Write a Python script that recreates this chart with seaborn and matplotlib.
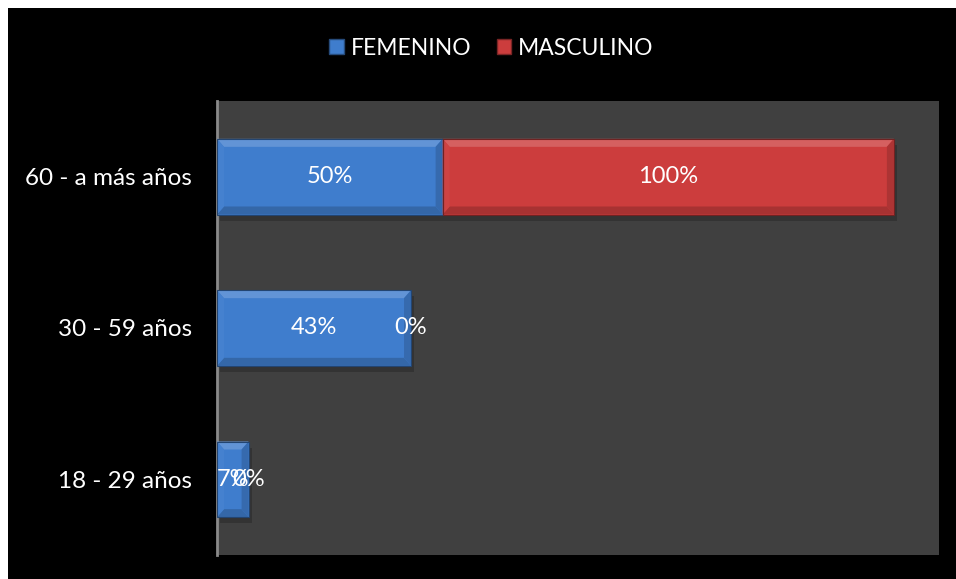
import matplotlib
matplotlib.use("Agg")
import matplotlib.pyplot as plt
from matplotlib.patches import Polygon, Rectangle
import matplotlib.colors as mcolors
import seaborn as sns
import pandas as pd

# Age groups (top to bottom) and share per sex, in percent
grupos = ["60 - a más años", "30 - 59 años", "18 - 29 años"]
femenino = [50, 43, 7]
masculino = [100, 0, 0]
series = ["FEMENINO", "MASCULINO"]

AZUL = "#3f7dcd"
ROJO = "#cc3d3d"
FONDO = "#404040"

sns.set_theme(style="dark")
plt.rcParams["font.family"] = ["Lato", "DejaVu Sans"]

fig = plt.figure(figsize=(9.56, 5.79), dpi=100, facecolor="white")
# black canvas with a thin white margin on the top and left
fig.patches.append(Rectangle((8 / 956, 0), 1, 1 - 8 / 579, transform=fig.transFigure,
                             facecolor="black", edgecolor="none", zorder=-10))
ax = fig.add_axes([217 / 956, 1 - 555 / 579, (939 - 217) / 956, (555 - 101) / 579])
ax.set_facecolor(FONDO)

df = pd.DataFrame({"grupo": grupos, "FEMENINO": femenino, "MASCULINO": masculino})

sns.barplot(data=df, y="grupo", x="FEMENINO", order=grupos, color=AZUL,
            saturation=1, width=0.5, ax=ax, orient="h", linewidth=0)
sns.barplot(data=df, y="grupo", x="MASCULINO", order=grupos, color=ROJO,
            saturation=1, width=0.5, ax=ax, orient="h", linewidth=0,
            left=df["FEMENINO"].to_numpy())

ax.set_xlim(0, 160)
ax.set_ylim(2.5, -0.5)


def shade(color, f):
    r, g, b = mcolors.to_rgb(color)
    if f > 0:
        return (r + (1 - r) * f, g + (1 - g) * f, b + (1 - b) * f)
    return (r * (1 + f), g * (1 + f), b * (1 + f))


# bevelled edges and a soft shadow on each bar
to_data = ax.transData.inverted()
for container, base in zip(ax.containers, [AZUL, ROJO]):
    for p in container.patches:
        x0, y0 = p.get_x(), p.get_y()
        w, h = p.get_width(), p.get_height()
        if w <= 0:
            continue
        x1, y1 = x0 + w, y0 + h
        # bevel depth: 7 px horizontally, 8 px vertically
        dx = abs(to_data.transform((7, 0))[0] - to_data.transform((0, 0))[0])
        dy = abs(to_data.transform((0, 8))[1] - to_data.transform((0, 0))[1])
        dx = min(dx, w / 2)
        sx = abs(to_data.transform((6, 0))[0] - to_data.transform((0, 0))[0])
        sy = abs(to_data.transform((0, 6))[1] - to_data.transform((0, 0))[1])
        ax.add_patch(Rectangle((x0 + sx * 0.5, y0 + sy), w, h, facecolor="black",
                               alpha=0.2, edgecolor="none", zorder=1))
        p.set_zorder(2)
        # y axis is inverted: y0 is the top edge, y1 the bottom edge
        faces = [
            ([(x0, y0), (x1, y0), (x1 - dx, y0 + dy), (x0 + dx, y0 + dy)], 0.18),
            ([(x0, y1), (x1, y1), (x1 - dx, y1 - dy), (x0 + dx, y1 - dy)], -0.18),
            ([(x1, y0), (x1, y1), (x1 - dx, y1 - dy), (x1 - dx, y0 + dy)], -0.15),
            ([(x0, y0), (x0, y1), (x0 + dx, y1 - dy), (x0 + dx, y0 + dy)], 0.03),
        ]
        for pts, f in faces:
            ax.add_patch(Polygon(pts, closed=True, facecolor=shade(base, f),
                                 edgecolor="none", zorder=3))
        ax.add_patch(Rectangle((x0, y0), w, h, facecolor="none",
                               edgecolor=shade(base, -0.45), linewidth=0.8, zorder=4))

for container, vals in zip(ax.containers, [femenino, masculino]):
    ax.bar_label(container, labels=[f"{v}%" for v in vals], label_type="center",
                 color="white", fontsize=17, zorder=5)

ax.set_xlabel("")
ax.set_ylabel("")
ax.set_xticks([])
ax.tick_params(axis="y", length=0, pad=18, labelsize=17.5, labelcolor="white")
ax.grid(False)
for side in ["top", "right", "bottom"]:
    ax.spines[side].set_visible(False)
ax.spines["left"].set_color("#8a8a8a")
ax.spines["left"].set_linewidth(2)

handles = [Rectangle((0, 0), 1, 1, facecolor=AZUL, edgecolor=shade(AZUL, -0.4)),
           Rectangle((0, 0), 1, 1, facecolor=ROJO, edgecolor=shade(ROJO, -0.4))]
fig.legend(handles, series, loc="center", bbox_to_anchor=(0.514, 0.917), ncol=2,
           frameon=False, fontsize=16.5, labelcolor="white", handlelength=0.65,
           handleheight=0.65, handletextpad=0.3, columnspacing=1.1)

fig.savefig("out.png", dpi=100, facecolor=fig.get_facecolor())
